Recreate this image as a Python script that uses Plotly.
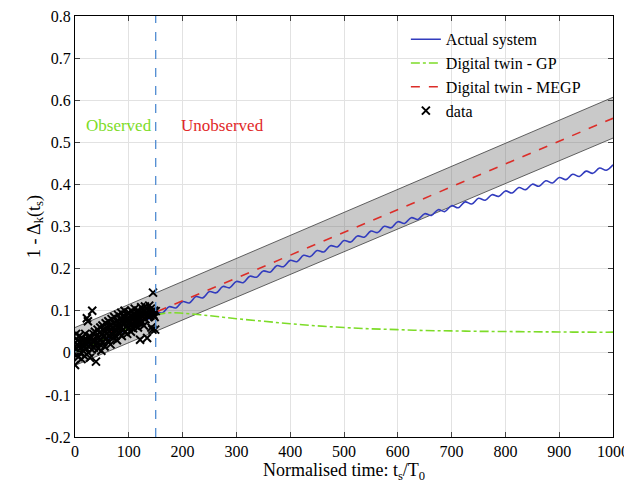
import plotly.graph_objects as go

# ---------------- data ----------------
data_x = list(range(0, 151))
data_y = [-0.029, 0.01, 0.045, -0.005, 0.02, 0.03, -0.01, 0.015, 0.04, 0.0,
          0.025, 0.012, -0.015, 0.035, 0.02, 0.005, 0.03, 0.015, -0.008, 0.045,
          0.02, 0.01, 0.082, 0.03, 0.075, 0.0, 0.025, 0.04, -0.012, 0.018,
          0.035, 0.008, 0.1, 0.028, 0.045, 0.012, 0.03, 0.05, 0.02, -0.021,
          0.04, 0.025, 0.055, 0.01, 0.035, 0.048, 0.02, 0.06, 0.03, 0.005,
          0.045, 0.065, 0.025, 0.04, 0.055, 0.015, 0.05, 0.07, 0.035, 0.045,
          0.06, 0.028, 0.075, 0.05, 0.04, 0.065, 0.02, 0.055, 0.08, 0.045,
          0.06, 0.035, 0.07, 0.085, 0.05, 0.04, 0.065, 0.075, 0.03, 0.06,
          0.09, 0.05, 0.07, 0.045, 0.08, 0.062, 0.095, 0.04, 0.075, 0.055,
          0.085, 0.068, 0.1, 0.05, 0.078, 0.062, 0.09, 0.045, 0.082, 0.07,
          0.095, 0.06, 0.075, 0.088, 0.05, 0.1, 0.068, 0.085, 0.058, 0.092,
          0.075, 0.105, 0.065, 0.085, 0.07, 0.095, 0.078, 0.06, 0.1, 0.085,
          0.07, 0.031, 0.09, 0.108, 0.075, 0.095, 0.085, 0.1, 0.065, 0.09,
          0.11, 0.08, 0.095, 0.105, 0.035, 0.09, 0.1, 0.085, 0.112, 0.095,
          0.088, 0.105, 0.06, 0.098, 0.055, 0.143, 0.09, 0.1, 0.085, 0.055,
          0.099]

actual_x = [i * 12.5 for i in range(81)]
actual_y = [0.0045, 0.0033, 0.020, 0.0188, 0.0355, 0.0343, 0.051, 0.0495, 0.0665, 0.0655,
            0.082, 0.0805, 0.0975, 0.0945, 0.1095, 0.1065, 0.1215, 0.1185, 0.1335, 0.1305,
            0.1455, 0.1425, 0.1575, 0.1545, 0.1695, 0.1665, 0.182, 0.1795, 0.1945, 0.1915,
            0.207, 0.2045, 0.2195, 0.2165, 0.2315, 0.2285, 0.243, 0.2395, 0.2545, 0.2515,
            0.2665, 0.2631, 0.2775, 0.2745, 0.289, 0.2855, 0.3005, 0.2969, 0.3115, 0.3073,
            0.321, 0.3168, 0.3305, 0.3263, 0.34, 0.3355, 0.3495, 0.3445, 0.3585, 0.3535,
            0.367, 0.3625, 0.3755, 0.3715, 0.3845, 0.3795, 0.3925, 0.3875, 0.4005, 0.3955,
            0.4085, 0.4035, 0.4165, 0.4113, 0.424, 0.4188, 0.4315, 0.4263, 0.439, 0.4335,
            0.4465]

gp_x = [0, 25, 50, 75, 100, 125, 150, 175, 200, 250, 300, 350, 400, 450, 500,
        550, 600, 650, 700, 750, 800, 850, 900, 950, 1000]
gp_y = [0.0, 0.015, 0.03, 0.045, 0.06, 0.075, 0.09, 0.095, 0.094, 0.088, 0.081,
        0.075, 0.069, 0.064, 0.060, 0.057, 0.055, 0.053, 0.052, 0.051, 0.0505,
        0.050, 0.0495, 0.049, 0.049]

megp_x = [0, 1000]
megp_y = [0.015, 0.557]
band_upper = [0.060, 0.607]
band_lower = [-0.030, 0.510]

x_ticks = [0, 100, 200, 300, 400, 500, 600, 700, 800, 900, 1000]
y_ticks = [-0.2, -0.1, 0, 0.1, 0.2, 0.3, 0.4, 0.5, 0.6, 0.7, 0.8]
y_tick_labels = ["-0.2", "-0.1", "0", "0.1", "0.2", "0.3", "0.4", "0.5", "0.6", "0.7", "0.8"]
split_x = 150

# ---------------- figure ----------------
FONT = "Liberation Serif"
fig = go.Figure()

fig.add_trace(go.Scatter(x=megp_x, y=band_lower, mode="lines",
                         line=dict(color="rgb(60,60,60)", width=0.8),
                         showlegend=False, hoverinfo="skip"))
fig.add_trace(go.Scatter(x=megp_x, y=band_upper, mode="lines", fill="tonexty",
                         fillcolor="rgba(100,100,100,0.35)",
                         line=dict(color="rgb(60,60,60)", width=0.8),
                         showlegend=False, hoverinfo="skip"))

fig.add_trace(go.Scatter(x=actual_x, y=actual_y, mode="lines", name="Actual system",
                         line=dict(color="rgb(50,60,190)", width=1.6, shape="spline")))
fig.add_trace(go.Scatter(x=gp_x, y=gp_y, mode="lines", name="Digital twin - GP",
                         line=dict(color="rgb(125,220,40)", width=1.6, dash="dashdot",
                                   shape="spline")))
fig.add_trace(go.Scatter(x=megp_x, y=megp_y, mode="lines", name="Digital twin - MEGP",
                         line=dict(color="rgb(220,45,40)", width=1.6, dash="dash")))
fig.add_trace(go.Scatter(x=data_x, y=data_y, mode="markers", name="data",
                         marker=dict(symbol="x-thin", size=8, color="black",
                                     line=dict(width=2, color="black"))))

fig.add_shape(type="line", x0=split_x, x1=split_x, y0=0, y1=1, xref="x", yref="paper",
              line=dict(color="rgb(80,140,210)", width=1.3, dash="dash"))

fig.add_annotation(x=81, y=0.54, text="Observed", showarrow=False,
                   font=dict(family=FONT, size=17, color="rgb(125,220,40)"))
fig.add_annotation(x=275, y=0.54, text="Unobserved", showarrow=False,
                   font=dict(family=FONT, size=17, color="rgb(225,40,40)"))

# the page body has an 8px default margin, so the figure is sized to fit the window
fig.update_layout(
    width=624, height=478,
    margin=dict(l=67, r=19, t=8, b=49),
    paper_bgcolor="white", plot_bgcolor="white",
    font=dict(family=FONT, size=16, color="black"),
    showlegend=True,
    legend=dict(x=0.615, y=0.985, xanchor="left", yanchor="top",
                traceorder="normal",
                bgcolor="rgba(255,255,255,0)", borderwidth=0,
                font=dict(family=FONT, size=16), tracegroupgap=0,
                itemwidth=30),
)
fig.update_xaxes(range=[0, 1000], tickvals=x_ticks, ticks="inside", ticklen=5,
                 automargin=False, ticklabeloverflow="allow",
                 showline=True, linecolor="black", linewidth=1.2, mirror="ticks",
                 showgrid=True, gridcolor="rgb(226,226,226)", gridwidth=1,
                 zeroline=False, tickfont=dict(family=FONT, size=16),
                 title=dict(text="Normalised time: t<sub>s</sub>/T<sub>0</sub>",
                            font=dict(family=FONT, size=18), standoff=1))
fig.update_yaxes(range=[-0.2, 0.8], tickvals=y_ticks, ticktext=y_tick_labels,
                 ticks="inside", ticklen=5, automargin=False, ticklabeloverflow="allow",
                 showline=True, linecolor="black", linewidth=1.2, mirror="ticks",
                 showgrid=True, gridcolor="rgb(226,226,226)", gridwidth=1,
                 zeroline=False, tickfont=dict(family=FONT, size=16),
                 title=dict(text="1 - Δ<sub>k</sub>(t<sub>s</sub>)",
                            font=dict(family=FONT, size=18), standoff=0))

fig.write_html("out.html")
